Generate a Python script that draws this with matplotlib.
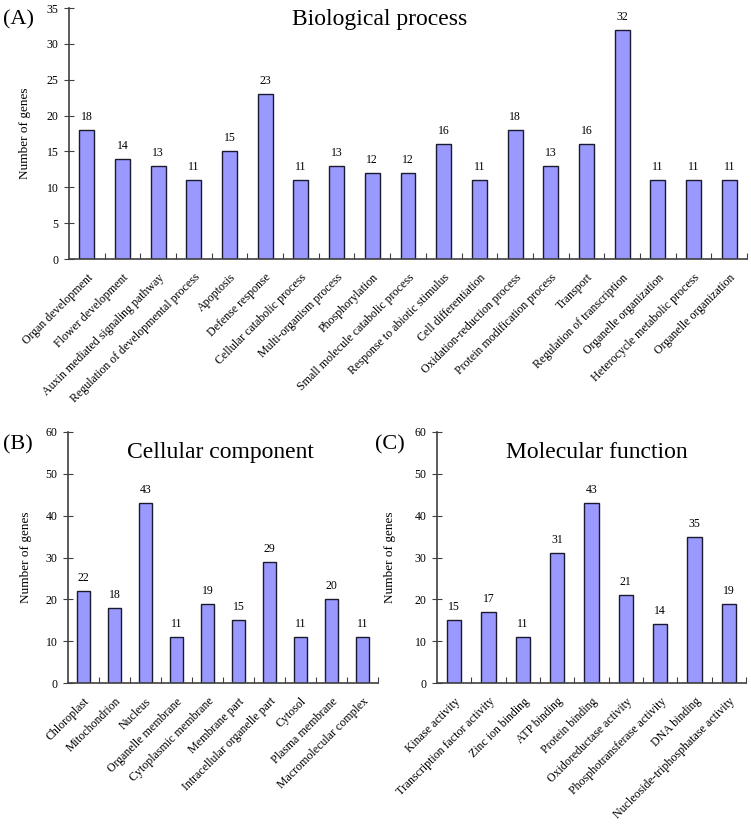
import matplotlib
matplotlib.use("Agg")
import matplotlib.pyplot as plt

plt.rcParams["font.family"] = ["Liberation Serif", "DejaVu Serif"]

# GO categories and gene counts
bp_terms = ["Organ development", "Flower development", "Auxin mediated signaling pathway",
            "Regulation of developmental process", "Apoptosis", "Defense response",
            "Cellular catabolic process", "Multi-organism process", "Phosphorylation",
            "Small molecule catabolic process", "Response to abiotic stimulus",
            "Cell differentiation", "Oxidation-reduction process", "Protein modification process",
            "Transport", "Regulation of transcription", "Organelle organization",
            "Heterocycle metabolic process", "Organelle organization"]
bp_counts = [18, 14, 13, 11, 15, 23, 11, 13, 12, 12, 16, 11, 18, 13, 16, 32, 11, 11, 11]

cc_terms = ["Chloroplast", "Mitochondrion", "Nucleus", "Organelle membrane",
            "Cytoplasmic membrane", "Membrane part", "Intracellular organelle part",
            "Cytosol", "Plasma membrane", "Macromolecular complex"]
cc_counts = [22, 18, 43, 11, 19, 15, 29, 11, 20, 11]

mf_terms = ["Kinase activity", "Transcription factor activity", "Zinc ion binding",
            "ATP binding", "Protein binding", "Oxidoreductase activity",
            "Phosphotransferase activity", "DNA binding", "Nucleoside-triphosphatase activity"]
mf_counts = [15, 17, 11, 31, 43, 21, 14, 35, 19]

W, H = 751, 826
fig = plt.figure(figsize=(W / 100, H / 100), dpi=100)


def px(x0, y0, x1, y1):
    # pixel box (left, top, right, bottom) -> figure fraction rect
    return [x0 / W, 1 - y1 / H, (x1 - x0) / W, (y1 - y0) / H]


def bar_panel(ax, terms, counts, ymax, ystep):
    n = len(terms)
    xs = list(range(n))
    ax.bar(xs, counts, width=0.42, color="#9999ff", edgecolor="#1a1a2e", linewidth=1.0)
    for x, v in zip(xs, counts):
        ax.annotate(str(v), (x, v), xytext=(0, 5), textcoords="offset points",
                    ha="center", va="bottom", fontsize=8.5)
    ax.set_xlim(-0.5, n - 0.5)
    ax.set_ylim(0, ymax)
    ax.set_yticks(range(0, ymax + 1, ystep))
    ax.set_xticks([i + 0.5 for i in range(n)])
    ax.set_xticklabels([])
    ax.set_xticks(xs, minor=True)
    ax.set_xticklabels(terms, minor=True, rotation=45, ha="right", rotation_mode="anchor",
                       fontsize=8.6)
    ax.tick_params(axis="x", which="minor", length=0, pad=9)
    ax.tick_params(axis="x", which="major", direction="in", length=4, color="#404040")
    ax.tick_params(axis="y", direction="inout", length=7, color="#404040", labelsize=8.5, pad=4)
    for s in ["top", "right"]:
        ax.spines[s].set_visible(False)
    for s in ["left", "bottom"]:
        ax.spines[s].set_color("#404040")
        ax.spines[s].set_linewidth(1.2)
    ax.set_ylabel("Number of genes", fontsize=9.5)


axA = fig.add_axes(px(69, 8, 747, 259))
bar_panel(axA, bp_terms, bp_counts, 35, 5)
axA.yaxis.set_label_coords(-38 / 678, 0.5)

axB = fig.add_axes(px(68, 432, 378, 683))
bar_panel(axB, cc_terms, cc_counts, 60, 10)
axB.yaxis.set_label_coords(-36 / 310, 0.5)

axC = fig.add_axes(px(437, 432, 746, 683))
bar_panel(axC, mf_terms, mf_counts, 60, 10)
axC.yaxis.set_label_coords(-41 / 309, 0.5)

fig.text(380 / W, 1 - 20 / H, "Biological process", fontsize=17, ha="center", va="center")
fig.text(220 / W, 1 - 452 / H, "Cellular component", fontsize=17, ha="center", va="center")
fig.text(597 / W, 1 - 453 / H, "Molecular function", fontsize=17, ha="center", va="center")
fig.text(3 / W, 1 - 20 / H, "(A)", fontsize=16, ha="left", va="center")
fig.text(3 / W, 1 - 445 / H, "(B)", fontsize=16, ha="left", va="center")
fig.text(375 / W, 1 - 445 / H, "(C)", fontsize=16, ha="left", va="center")

fig.savefig("out.png", dpi=100)
